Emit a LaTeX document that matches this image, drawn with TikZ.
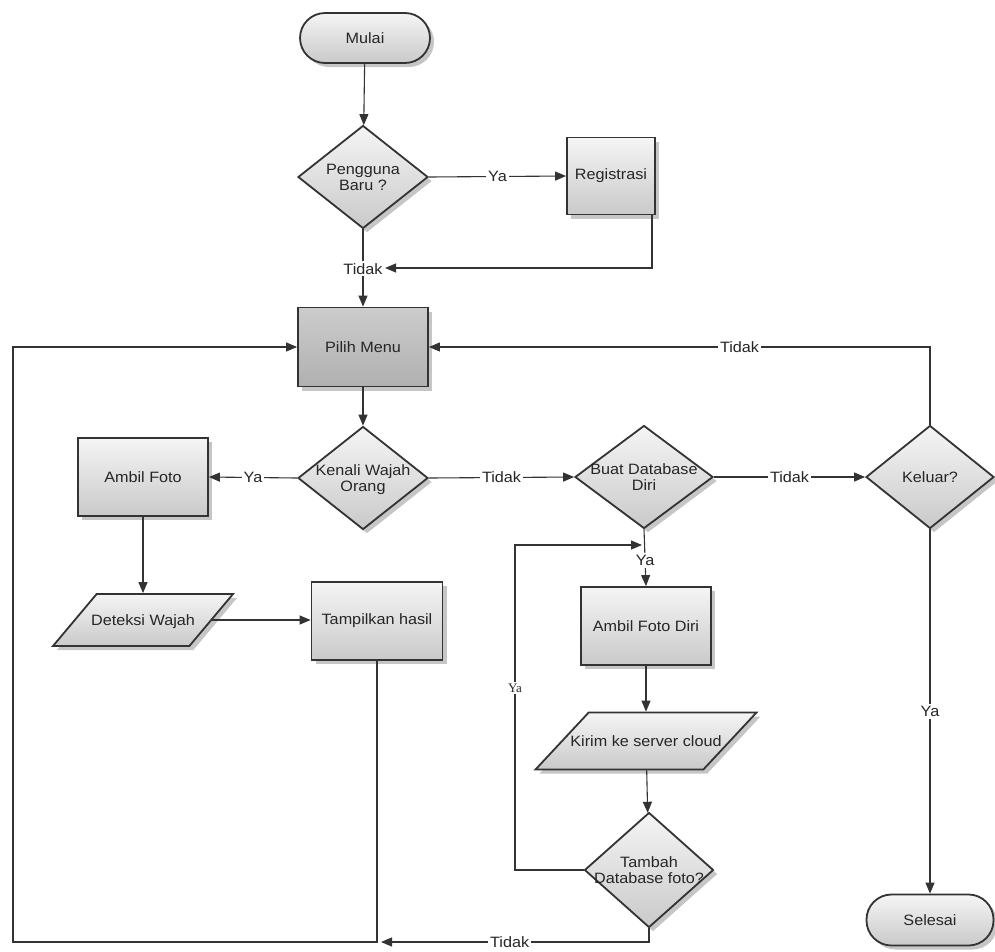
\documentclass[tikz,border=0pt]{standalone}
\usepackage{fontspec}
\setmainfont{Liberation Sans}[FakeStretch=1.08]
\newfontfamily\yaserif{Liberation Serif}
\usetikzlibrary{shapes.geometric,shadows,arrows.meta,calc}
\definecolor{ln}{HTML}{333333}
\definecolor{tx}{HTML}{262626}
\newcommand\dtxt[1]{\smash{\makebox[0pt]{\raisebox{-6pt}{\begin{tabular}{@{}c@{}}#1\end{tabular}}}}}
\begin{document}
\begin{tikzpicture}[x=1pt,y=-1pt,
  every node/.style={text=tx, font=\fontsize{15}{16}\selectfont},
  shp/.style={draw=ln, line width=1.8pt, top color=gray!8, bottom color=gray!42,
    drop shadow={shadow xshift=4pt, shadow yshift=-4pt, fill=gray!45, opacity=1},
    align=center, inner sep=0pt},
  proc/.style={shp, rectangle, minimum width=130, minimum height=78},
  darkproc/.style={proc, top color=gray!40, bottom color=gray!62},
  term/.style={shp, rectangle, rounded corners=25pt, minimum width=130, minimum height=50},
  dec/.style={shp, diamond, minimum width=130, minimum height=103},
  io/.style={shp, trapezium, trapezium left angle=50, trapezium right angle=130,
    trapezium stretches body, inner xsep=0pt, inner ysep=26pt, minimum width=180},
  con/.style={draw=ln, line width=1.1pt},
  arr/.style={con, -{Triangle[length=11pt,width=9pt]}},
  lbl/.style={fill=white, inner sep=2pt, text=tx},
  slbl/.style={lbl, font=\yaserif\fontsize{13}{15}\selectfont}
]
\fill[white] (0,0) rectangle (995,951);
\useasboundingbox (0,0) rectangle (995,951);

% nodes
\node[term] (mulai) at (365,38) {Mulai};
\node[dec] (peng) at (363,177) {\dtxt{Pengguna\\Baru ?}};
\node[proc, minimum width=88, minimum height=77] (reg) at (611,176) {Registrasi};
\node[darkproc, minimum height=79] (pilih) at (363,347) {Pilih Menu};
\node[dec] (kenali) at (363,478) {\dtxt{Kenali Wajah\\Orang}};
\node[proc] (ambil) at (143,477) {Ambil Foto};
\node[dec, minimum width=138] (buat) at (644,477) {\dtxt{Buat Database\\Diri}};
\node[dec, minimum width=128] (keluar) at (930,477) {\dtxt{Keluar?}};
\node[io] (deteksi) at (143,620) {\dtxt{Deteksi Wajah}};
\node[proc, minimum width=131] (tampil) at (377,621) {Tampilkan hasil};
\node[proc] (ambild) at (646,626) {Ambil Foto Diri};
\node[io, inner ysep=28.5pt, minimum width=221, trapezium left angle=47, trapezium right angle=133] (kirim) at (646,741) {\dtxt{Kirim ke server cloud}};
\node[dec, minimum width=129, minimum height=115] (tambah) at (649,870) {\dtxt{Tambah\\Database foto?}};
\node[term, minimum width=127, minimum height=51] (selesai) at (930,920) {Selesai};

% helper coordinates
\coordinate (rc) at (652,268);
\coordinate (ly) at (515,545);
\coordinate (bl) at (13,942);
\coordinate (bj) at (381,942);

% connectors
\draw[arr] (mulai) -- (peng);
\draw[arr] (peng.east) -- node[lbl] {Ya} (reg.west);
\draw[arr] (peng.south) -- node[lbl, pos=0.51] (t1) {Tidak} (pilih.north);
\draw[arr] (reg.south -| rc) -- (rc) -- (t1.east |- rc);
\draw[arr] (pilih) -- (kenali);
\draw[arr] (kenali.west) -- node[lbl] {Ya} (ambil.east);
\draw[arr] (kenali.east) -- node[lbl] {Tidak} (buat.west);
\draw[arr] (buat.east) -- node[lbl] {Tidak} (keluar.west);
\draw[arr] (keluar.north) |- node[lbl, pos=0.69] {Tidak} (pilih.east);
\draw[arr] (keluar.south) -- node[lbl] {Ya} (selesai.north);
\draw[arr] (buat.south) -- node[lbl, pos=0.55] {Ya} (ambild.north);
\draw[arr] (ambild) -- (kirim);
\draw[arr] (kirim) -- (tambah);
\draw[arr] (tambah.west) -| node[slbl, pos=0.78] {Ya} (ly) -- ($(buat.south |- ly)+(-2,0)$);
\draw[arr] (tambah.south) |- node[lbl, pos=0.76] {Tidak} (bj);
\draw[arr] (ambil) -- (deteksi);
\draw[arr] (deteksi.east) -- (tampil.west |- deteksi.east);
\draw[arr] (tampil.south) |- (bl) |- (pilih.west);
\end{tikzpicture}
\end{document}
